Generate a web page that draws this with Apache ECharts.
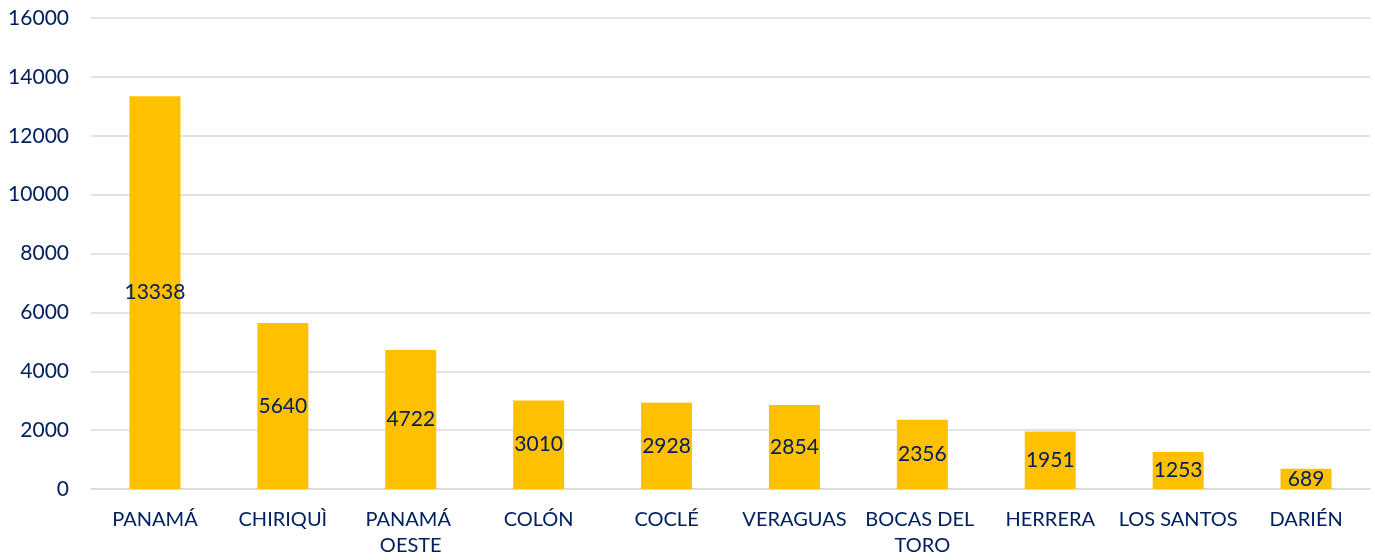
<!DOCTYPE html>
<html>
<head>
<meta charset="utf-8">
<script src="https://cdn.jsdelivr.net/npm/echarts@6/dist/echarts.min.js"></script>
<style>
  html, body { margin: 0; padding: 0; background: #fff; }
  #chart { width: 1375px; height: 560px; }
</style>
</head>
<body>
<div id="chart"></div>
<script>
const provinces = ['PANAMÁ', 'CHIRIQUÌ', 'PANAMÁ OESTE', 'COLÓN', 'COCLÉ', 'VERAGUAS', 'BOCAS DEL TORO', 'HERRERA', 'LOS SANTOS', 'DARIÉN'];
const counts = [13338, 5640, 4722, 3010, 2928, 2854, 2356, 1951, 1253, 689];

const navy = '#002060';
const fontFamily = 'Lato, "Open Sans", sans-serif';

const chart = echarts.init(document.getElementById('chart'));

chart.setOption({
  animation: false,
  grid: { left: 91, right: 5, top: 18, bottom: 71 },
  xAxis: {
    type: 'category',
    data: provinces,
    axisLine: { lineStyle: { color: '#d9d9d9', width: 1.5 } },
    axisTick: { length: 8, lineStyle: { color: '#d9d9d9', width: 1.5 } },
    axisLabel: {
      interval: 0,
      color: navy,
      fontFamily,
      fontSize: 20,
      margin: 18,
      lineHeight: 26,
      width: 124,
      overflow: 'break'
    }
  },
  yAxis: {
    type: 'value',
    min: 0,
    max: 16000,
    interval: 2000,
    axisLabel: {
      color: navy,
      fontFamily,
      fontSize: 21,
      margin: 22,
      formatter: (v) => String(v)
    },
    splitLine: { lineStyle: { color: '#d9d9d9', width: 1.5 } }
  },
  series: [{
    type: 'bar',
    data: counts,
    barWidth: 51,
    itemStyle: { color: '#ffc000' },
    label: {
      show: true,
      position: 'inside',
      color: navy,
      fontFamily,
      fontSize: 21
    }
  }]
});
</script>
</body>
</html>
